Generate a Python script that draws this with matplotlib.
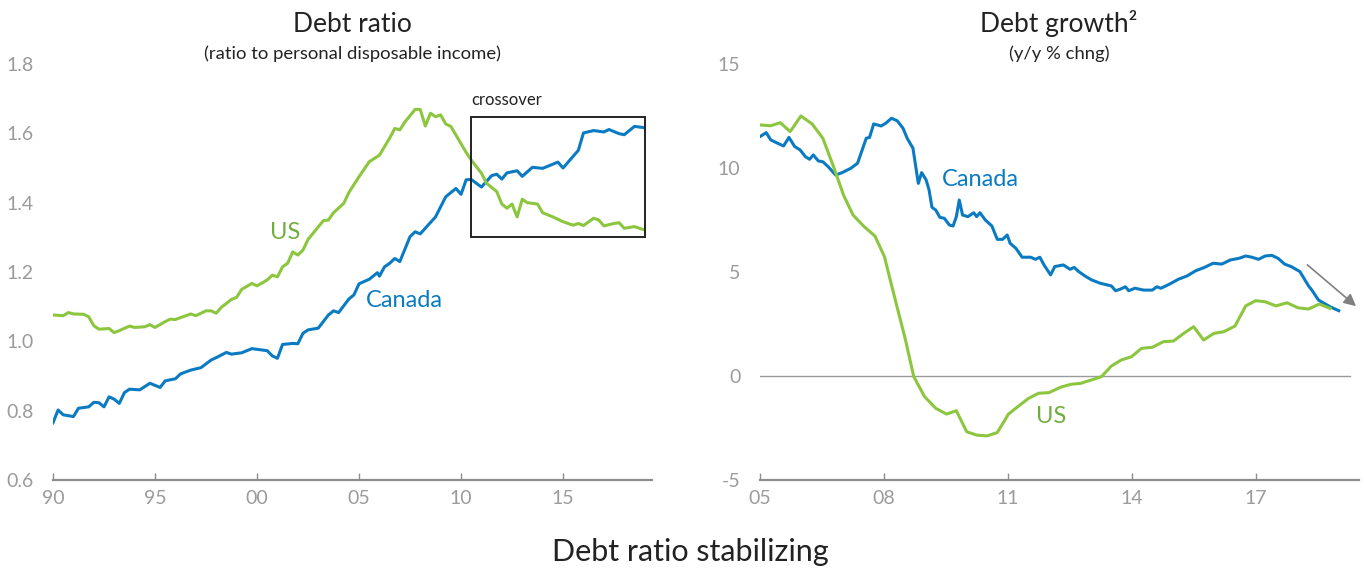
import matplotlib
matplotlib.use("Agg")
import matplotlib.pyplot as plt
from matplotlib.patches import Rectangle

plt.rcParams['font.family'] = ['Lato', 'DejaVu Sans']

BLUE = '#0a7bc2'
GREEN = '#8cc63f'
GREEN_TXT = '#72ad3f'
GREY = '#8c8c8c'
LABEL_GREY = '#9b9b9b'
DARK = '#222222'

# Debt ratio (ratio to personal disposable income)
ca_ratio_t = [1990.0, 1990.25, 1990.5, 1991.0, 1991.25, 1991.75, 1992.0, 1992.25, 1992.5, 1992.75,
              1993.0, 1993.25, 1993.5, 1993.75, 1994.25, 1994.75, 1995.25, 1995.5, 1996.0, 1996.25,
              1996.75, 1997.25, 1997.75, 1998.0, 1998.5, 1998.75, 1999.25, 1999.75, 2000.5, 2000.75,
              2001.0, 2001.25, 2001.75, 2002.0, 2002.25, 2002.5, 2003.0, 2003.5, 2003.75, 2004.0,
              2004.5, 2004.75, 2005.0, 2005.5, 2005.9, 2006.0, 2006.25, 2006.5, 2006.75, 2007.0,
              2007.5, 2007.75, 2008.0, 2008.75, 2009.25, 2009.75, 2010.0, 2010.25, 2010.5, 2011.0,
              2011.5, 2011.75, 2012.0, 2012.25, 2012.75, 2013.0, 2013.5, 2014.0, 2014.25, 2014.75,
              2015.0, 2015.75, 2016.0, 2016.5, 2017.0, 2017.25, 2017.75, 2018.0, 2018.5, 2018.9]
ca_ratio = [0.765, 0.802, 0.788, 0.783, 0.807, 0.811, 0.824, 0.823, 0.811, 0.840,
            0.833, 0.821, 0.852, 0.862, 0.860, 0.879, 0.867, 0.886, 0.892, 0.906,
            0.917, 0.924, 0.946, 0.953, 0.968, 0.963, 0.967, 0.979, 0.973, 0.958,
            0.951, 0.991, 0.994, 0.993, 1.023, 1.033, 1.038, 1.076, 1.088, 1.083,
            1.122, 1.134, 1.166, 1.179, 1.198, 1.188, 1.215, 1.225, 1.239, 1.230,
            1.302, 1.316, 1.310, 1.359, 1.417, 1.441, 1.424, 1.466, 1.467, 1.445,
            1.478, 1.482, 1.468, 1.486, 1.492, 1.476, 1.502, 1.499, 1.505, 1.517,
            1.500, 1.551, 1.601, 1.608, 1.604, 1.611, 1.599, 1.596, 1.620, 1.617]

us_ratio_t = [1990.0, 1990.5, 1990.75, 1991.0, 1991.5, 1991.75, 1992.0, 1992.25, 1992.75, 1993.0,
              1993.25, 1993.75, 1994.0, 1994.5, 1994.75, 1995.0, 1995.5, 1995.75, 1996.0, 1996.75,
              1997.0, 1997.5, 1997.75, 1998.0, 1998.25, 1998.75, 1999.0, 1999.25, 1999.75, 2000.0,
              2000.5, 2000.75, 2001.0, 2001.25, 2001.5, 2001.75, 2002.0, 2002.25, 2002.5, 2002.75,
              2003.25, 2003.5, 2003.75, 2004.25, 2004.5, 2005.0, 2005.5, 2006.0, 2006.5, 2006.75,
              2007.0, 2007.25, 2007.75, 2008.0, 2008.25, 2008.5, 2008.75, 2009.0, 2009.25, 2009.5,
              2009.75, 2010.25, 2010.5, 2011.0, 2011.25, 2011.75, 2012.0, 2012.25, 2012.5, 2012.75,
              2013.0, 2013.25, 2013.75, 2014.0, 2014.5, 2015.0, 2015.5, 2015.75, 2016.0, 2016.5,
              2016.75, 2017.0, 2017.5, 2017.75, 2018.0, 2018.5, 2018.9]
us_ratio = [1.076, 1.074, 1.083, 1.079, 1.078, 1.071, 1.045, 1.035, 1.037, 1.025,
            1.031, 1.044, 1.040, 1.042, 1.048, 1.040, 1.057, 1.064, 1.063, 1.079,
            1.074, 1.088, 1.088, 1.081, 1.098, 1.121, 1.127, 1.150, 1.167, 1.160,
            1.177, 1.191, 1.186, 1.215, 1.225, 1.258, 1.249, 1.263, 1.294, 1.312,
            1.348, 1.350, 1.371, 1.398, 1.429, 1.475, 1.518, 1.537, 1.586, 1.614,
            1.610, 1.633, 1.669, 1.669, 1.621, 1.658, 1.648, 1.653, 1.627, 1.620,
            1.595, 1.545, 1.523, 1.485, 1.456, 1.432, 1.396, 1.384, 1.396, 1.359,
            1.410, 1.400, 1.396, 1.371, 1.359, 1.345, 1.335, 1.340, 1.334, 1.355,
            1.350, 1.333, 1.340, 1.342, 1.326, 1.331, 1.323]

# Debt growth (y/y % chng)
ca_growth_t = [2005.0, 2005.15, 2005.26, 2005.47, 2005.57, 2005.7, 2005.84, 2005.97, 2006.1, 2006.2,
               2006.29, 2006.41, 2006.52, 2006.65, 2006.83, 2006.99, 2007.2, 2007.36, 2007.57, 2007.65,
               2007.75, 2007.93, 2008.04, 2008.18, 2008.32, 2008.46, 2008.56, 2008.7, 2008.83, 2008.91,
               2009.02, 2009.09, 2009.16, 2009.25, 2009.35, 2009.46, 2009.58, 2009.67, 2009.75, 2009.82,
               2009.9, 2010.03, 2010.17, 2010.24, 2010.32, 2010.45, 2010.61, 2010.74, 2010.87, 2010.98,
               2011.05, 2011.19, 2011.34, 2011.55, 2011.66, 2011.77, 2011.87, 2012.03, 2012.13, 2012.34,
               2012.5, 2012.6, 2012.71, 2012.86, 2013.02, 2013.23, 2013.5, 2013.6, 2013.71, 2013.84,
               2013.92, 2014.07, 2014.28, 2014.49, 2014.6, 2014.7, 2014.91, 2015.12, 2015.33, 2015.54,
               2015.75, 2015.96, 2016.17, 2016.38, 2016.59, 2016.75, 2016.9, 2017.06, 2017.22, 2017.38,
               2017.53, 2017.69, 2017.85, 2018.06, 2018.27, 2018.35, 2018.51, 2018.79, 2019.0]
ca_growth = [11.51, 11.70, 11.35, 11.15, 11.06, 11.47, 11.03, 10.87, 10.54, 10.42,
             10.63, 10.34, 10.30, 10.06, 9.66, 9.78, 9.99, 10.23, 11.43, 11.47,
             12.12, 12.02, 12.15, 12.39, 12.27, 11.91, 11.43, 10.95, 9.26, 9.78,
             9.42, 8.94, 8.11, 7.98, 7.63, 7.58, 7.26, 7.21, 7.66, 8.46,
             7.74, 7.66, 7.85, 7.66, 7.85, 7.50, 7.21, 6.57, 6.57, 6.78,
             6.38, 6.14, 5.71, 5.71, 5.61, 5.71, 5.34, 4.86, 5.26, 5.34,
             5.13, 5.22, 5.02, 4.81, 4.62, 4.46, 4.33, 4.10, 4.17, 4.29,
             4.10, 4.22, 4.13, 4.13, 4.29, 4.22, 4.42, 4.65, 4.81, 5.06,
             5.22, 5.42, 5.38, 5.58, 5.66, 5.77, 5.71, 5.61, 5.77, 5.80,
             5.66, 5.38, 5.26, 5.02, 4.33, 4.13, 3.65, 3.33, 3.14]

us_growth_t = [2005.0, 2005.26, 2005.49, 2005.73, 2005.99, 2006.26, 2006.52, 2006.78, 2007.02, 2007.25,
               2007.52, 2007.78, 2008.01, 2008.15, 2008.28, 2008.51, 2008.72, 2008.98, 2009.25, 2009.51,
               2009.75, 2010.0, 2010.24, 2010.49, 2010.74, 2011.01, 2011.26, 2011.5, 2011.74, 2011.99,
               2012.27, 2012.52, 2012.76, 2013.02, 2013.26, 2013.5, 2013.74, 2013.99, 2014.23, 2014.49,
               2014.76, 2015.0, 2015.25, 2015.49, 2015.73, 2015.98, 2016.22, 2016.49, 2016.75, 2016.99,
               2017.22, 2017.48, 2017.75, 2018.01, 2018.27, 2018.53, 2018.79]
us_growth = [12.07, 12.03, 12.18, 11.75, 12.50, 12.12, 11.43, 10.06, 8.70, 7.74,
             7.18, 6.73, 5.74, 4.62, 3.60, 1.81, -0.03, -0.99, -1.55, -1.83,
             -1.67, -2.68, -2.84, -2.88, -2.72, -1.83, -1.44, -1.07, -0.83, -0.80,
             -0.54, -0.40, -0.35, -0.19, -0.03, 0.48, 0.77, 0.93, 1.33, 1.38,
             1.65, 1.68, 2.05, 2.37, 1.73, 2.05, 2.13, 2.40, 3.37, 3.62,
             3.57, 3.37, 3.52, 3.28, 3.22, 3.46, 3.25]

ratio_ticks = [1990, 1995, 2000, 2005, 2010, 2015]
ratio_ticklabels = ['90', '95', '00', '05', '10', '15']
growth_ticks = [2005, 2008, 2011, 2014, 2017]
growth_ticklabels = ['05', '08', '11', '14', '17']
ratio_yticks = [0.6, 0.8, 1.0, 1.2, 1.4, 1.6, 1.8]
growth_yticks = [-5, 0, 5, 10, 15]

W, H = 1364, 569
fig = plt.figure(figsize=(W / 100, H / 100), dpi=100)


def px_axes(x0, x1, y0, y1):
    # axes rectangle given in pixel coords (top-left origin)
    return fig.add_axes([x0 / W, 1 - y1 / H, (x1 - x0) / W, (y1 - y0) / H])


def style(ax):
    for s in ['left', 'right', 'top']:
        ax.spines[s].set_visible(False)
    ax.spines['bottom'].set_color(GREY)
    ax.spines['bottom'].set_linewidth(1.6)
    ax.tick_params(axis='x', direction='in', length=5, width=1, color=GREY,
                   labelcolor=LABEL_GREY, labelsize=14, pad=7)
    ax.tick_params(axis='y', length=0, labelcolor=LABEL_GREY, labelsize=14, pad=14)
    ax.set_facecolor('none')


ax1 = px_axes(53, 652, 64, 480)
ax2 = px_axes(760, 1359, 64, 480)

# left panel
ax1.plot(ca_ratio_t, ca_ratio, color=BLUE, lw=2.2, solid_joinstyle='round')
ax1.plot(us_ratio_t, us_ratio, color=GREEN, lw=2.2, solid_joinstyle='round')
ax1.set_xlim(1990, 2019.36)
ax1.set_ylim(0.6, 1.8)
ax1.set_xticks(ratio_ticks)
ax1.set_xticklabels(ratio_ticklabels)
ax1.set_yticks(ratio_yticks)
ax1.set_yticklabels([f'{v:.1f}' for v in ratio_yticks])
style(ax1)
ax1.add_patch(Rectangle((2010.5, 1.30), 8.5, 0.347, fill=False, edgecolor=DARK, lw=1.4, zorder=3))
ax1.text(2010.5, 1.672, 'crossover', color=DARK, fontsize=12, ha='left', va='bottom')
ax1.text(2001.4, 1.315, 'US', color=GREEN_TXT, fontsize=17, ha='center', va='center')
ax1.text(2007.2, 1.119, 'Canada', color=BLUE, fontsize=17, ha='center', va='center')

# right panel
ax2.axhline(0, xmax=0.985, color='#9a9a9a', lw=1)
ax2.plot(ca_growth_t, ca_growth, color=BLUE, lw=2.2, solid_joinstyle='round')
ax2.plot(us_growth_t, us_growth, color=GREEN, lw=2.2, solid_joinstyle='round')
ax2.set_xlim(2005, 2019.49)
ax2.set_ylim(-5, 15)
ax2.set_xticks(growth_ticks)
ax2.set_xticklabels(growth_ticklabels)
ax2.set_yticks(growth_yticks)
ax2.set_yticklabels([str(v) for v in growth_yticks])
style(ax2)
ax2.text(2010.32, 9.47, 'Canada', color=BLUE, fontsize=17, ha='center', va='center')
ax2.text(2012.04, -1.97, 'US', color=GREEN_TXT, fontsize=17, ha='center', va='center')
ax2.annotate('', xy=(2019.47, 3.27), xytext=(2018.19, 5.43),
             arrowprops=dict(arrowstyle='-|>', color='#808080', lw=1.2, mutation_scale=18),
             annotation_clip=False)

# titles
fig.text(352 / W, 1 - 32 / H, 'Debt ratio', ha='center', va='baseline', fontsize=19, color=DARK)
fig.text(352 / W, 1 - 59 / H, '(ratio to personal disposable income)', ha='center', va='baseline',
         fontsize=13.3, color=DARK)
fig.text(1059 / W, 1 - 32 / H, 'Debt growth\u00b2', ha='center', va='baseline', fontsize=19, color=DARK)
fig.text(1059 / W, 1 - 59 / H, '(y/y % chng)', ha='center', va='baseline', fontsize=13.3, color=DARK)
fig.text(690 / W, 1 - 561 / H, 'Debt ratio stabilizing', ha='center', va='baseline', fontsize=22, color=DARK)

fig.savefig('out.png', dpi=100)
